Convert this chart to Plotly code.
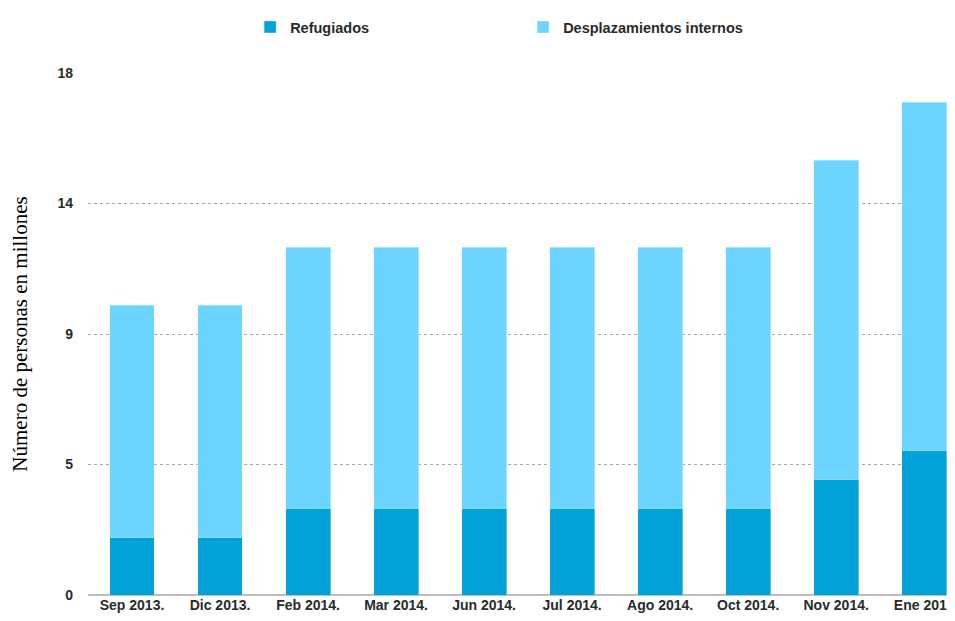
import plotly.graph_objects as go

categories = ["Sep 2013.", "Dic 2013.", "Feb 2014.", "Mar 2014.", "Jun 2014.",
              "Jul 2014.", "Ago 2014.", "Oct 2014.", "Nov 2014.", "Ene 2015"]
refugiados = [2, 2, 3, 3, 3, 3, 3, 3, 4, 5]
desplazamientos = [8, 8, 9, 9, 9, 9, 9, 9, 11, 12]
tick_vals = [0, 4.5, 9, 13.5, 18]
tick_text = ["0", "5", "9", "14", "18"]

fig = go.Figure()
fig.add_trace(go.Bar(x=categories, y=refugiados, name="Refugiados",
                     marker=dict(color="#00A3D9", line=dict(color="rgba(255,255,255,0.35)", width=1))))
fig.add_trace(go.Bar(x=categories, y=desplazamientos, name="Desplazamientos internos",
                     marker=dict(color="#6BD5FF", line=dict(color="rgba(255,255,255,0.35)", width=1))))

label_font = dict(family="Liberation Sans, Arial, sans-serif", size=14, color="#2a2a2a", weight="bold")

fig.update_layout(
    barmode="stack",
    bargap=0.49,
    width=947, height=613,
    margin=dict(l=80, r=0, t=65, b=26),
    paper_bgcolor="white", plot_bgcolor="white",
    font=label_font,
    legend=dict(orientation="h", x=0.187, xanchor="left", y=1.088, yanchor="middle",
                entrywidth=228, font=dict(family="Liberation Sans, Arial, sans-serif", size=14.5,
                                          color="#2a2a2a", weight="bold"),
                traceorder="normal"),
    xaxis=dict(range=[-0.5, 9.35], showgrid=False, showline=False, zeroline=False,
               ticks="", tickfont=label_font),
    yaxis=dict(range=[0, 18], tickvals=tick_vals, ticktext=tick_text,
               showgrid=True, gridcolor="#a8a8a8", griddash="dot", gridwidth=1,
               zeroline=True, zerolinecolor="#bdbdbd", zerolinewidth=2,
               showline=False, ticks="", ticklabelstandoff=14,
               tickfont=label_font,
               title=dict(text="Número de personas en millones",
                          font=dict(family="Liberation Serif, Times New Roman, serif", size=21,
                                    color="#000000", weight="normal"),
                          standoff=30)),
)

fig.write_html("out.html")
